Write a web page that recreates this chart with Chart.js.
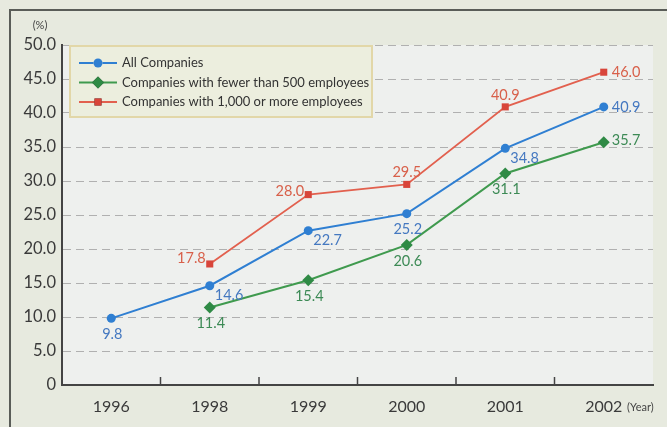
<!DOCTYPE html>
<html>
<head>
<meta charset="utf-8">
<script src="https://cdn.jsdelivr.net/npm/chart.js@4.4.1/dist/chart.umd.min.js"></script>
<style>
  html, body { margin: 0; padding: 0; background: #e7eadf; }
  #wrap { width: 667px; height: 427px; position: relative; }
</style>
</head>
<body>
<div id="wrap"><canvas id="c" width="667" height="427"></canvas></div>
<script>
// Survey years
const years = ['1996', '1998', '1999', '2000', '2001', '2002'];

// Share of companies (%)
const allCompanies   = [9.8, 14.6, 22.7, 25.2, 34.8, 40.9];
const under500       = [null, 11.4, 15.4, 20.6, 31.1, 35.7];
const over1000       = [null, 17.8, 28.0, 29.5, 40.9, 46.0];

const seriesNames = [
  'All Companies',
  'Companies with fewer than 500 employees',
  'Companies with 1,000 or more employees'
];

const yTicks = [0, 5, 10, 15, 20, 25, 30, 35, 40, 45, 50];

// Where each value label sits relative to its point
const labelPlacement = [
  ['below', 'belowRight', 'belowRight', 'below', 'belowRight', 'right'],
  [null, 'below', 'below', 'below', 'below', 'rightUp'],
  [null, 'aboveLeft', 'left', 'above', 'above', 'right']
];

const FONT = 'Lato, "DejaVu Sans", sans-serif';
const textColors = ['#4478c0', '#3c8a55', '#d8604a'];

const backdrop = {
  id: 'backdrop',
  beforeDraw(chart) {
    const { ctx, chartArea: a } = chart;
    ctx.save();
    ctx.fillStyle = '#eef0ee';
    ctx.fillRect(a.left, a.top, a.right - a.left, a.bottom - a.top);
    ctx.restore();
  },
  afterDraw(chart) {
    const { ctx, chartArea: a, scales } = chart;
    ctx.save();
    // outer frame
    ctx.strokeStyle = '#5a5d58';
    ctx.lineWidth = 2;
    ctx.beginPath();
    ctx.moveTo(10, 430);
    ctx.lineTo(10, 10);
    ctx.lineTo(670, 10);
    ctx.stroke();

    // inward category separators on the x axis
    const x = scales.x;
    ctx.strokeStyle = '#444';
    ctx.lineWidth = 1.5;
    for (let i = 0; i < years.length - 1; i++) {
      const px = (x.getPixelForValue(i) + x.getPixelForValue(i + 1)) / 2;
      ctx.beginPath();
      ctx.moveTo(px, a.bottom);
      ctx.lineTo(px, a.bottom - 8);
      ctx.stroke();
    }

    // axis units
    ctx.fillStyle = '#444';
    ctx.font = '11px ' + FONT;
    ctx.textAlign = 'center';
    ctx.textBaseline = 'middle';
    ctx.fillText('(%)', 40, 25);
    ctx.textAlign = 'left';
    ctx.fillText('(Year)', 627, 407);

    // value labels
    ctx.font = '14.5px ' + FONT;
    chart.data.datasets.forEach((ds, di) => {
      const meta = chart.getDatasetMeta(di);
      ctx.fillStyle = textColors[di];
      meta.data.forEach((pt, i) => {
        const v = ds.data[i];
        if (v == null) return;
        const txt = v.toFixed(1);
        let tx = pt.x, ty = pt.y;
        switch (labelPlacement[di][i]) {
          case 'below': ctx.textAlign = 'center'; ty += 16; tx += 1; break;
          case 'belowRight': ctx.textAlign = 'left'; tx += 5; ty += 10; break;
          case 'right': ctx.textAlign = 'left'; tx += 8; ty += 0; break;
          case 'rightUp': ctx.textAlign = 'left'; tx += 8; ty -= 2; break;
          case 'above': ctx.textAlign = 'center'; ty -= 12; break;
          case 'aboveLeft': ctx.textAlign = 'right'; tx -= 4; ty -= 6; break;
          case 'left': ctx.textAlign = 'right'; tx -= 4; ty -= 3; break;
        }
        ctx.textBaseline = 'middle';
        ctx.fillText(txt, tx, ty);
      });
    });

    // legend
    const lx = 70, ly = 46, lw = 302, lh = 71;
    ctx.fillStyle = '#eceede';
    ctx.strokeStyle = '#e2d7a8';
    ctx.lineWidth = 2;
    ctx.fillRect(lx, ly, lw, lh);
    ctx.strokeRect(lx, ly, lw, lh);
    ctx.font = '13px ' + FONT;
    ctx.textAlign = 'left';
    ctx.textBaseline = 'middle';
    chart.data.datasets.forEach((ds, di) => {
      const ry = 63 + di * 19.5;
      ctx.strokeStyle = ds.borderColor;
      ctx.lineWidth = 2;
      ctx.beginPath();
      ctx.moveTo(79, ry);
      ctx.lineTo(117, ry);
      ctx.stroke();
      Chart.helpers.drawPoint(ctx, {
        pointStyle: ds.pointStyle,
        radius: ds.pointRadius,
        borderWidth: 0,
        rotation: 0
      }, 98, ry);
      ctx.fillStyle = ds.pointBackgroundColor;
      ctx.fill();
      ctx.fillStyle = '#333';
      ctx.fillText(ds.label, 122, ry);
    });
    ctx.restore();
  }
};

new Chart(document.getElementById('c'), {
  type: 'line',
  data: {
    labels: years,
    datasets: [
      {
        label: seriesNames[0], data: allCompanies,
        borderColor: '#2f7fd2', backgroundColor: '#2f7fd2',
        pointBackgroundColor: '#2f7fd2', pointBorderWidth: 0,
        pointStyle: 'circle', pointRadius: 4.5, borderWidth: 2
      },
      {
        label: seriesNames[1], data: under500,
        borderColor: '#3f9a4e', backgroundColor: '#2f8a45',
        pointBackgroundColor: '#2f8a45', pointBorderWidth: 0,
        pointStyle: 'rectRot', pointRadius: 6, borderWidth: 2
      },
      {
        label: seriesNames[2], data: over1000,
        borderColor: '#e2604e', backgroundColor: '#d8453a',
        pointBackgroundColor: '#d8453a', pointBorderWidth: 0,
        pointStyle: 'rect', pointRadius: 5, borderWidth: 1.8
      }
    ]
  },
  plugins: [backdrop],
  options: {
    responsive: false,
    animation: false,
    spanGaps: false,
    layout: { padding: { left: 0, right: 14, top: 45, bottom: 0 } },
    plugins: { legend: { display: false }, tooltip: { enabled: false } },
    scales: {
      x: {
        offset: true,
        grid: { display: false, drawTicks: false },
        border: { color: '#444', width: 2 },
        ticks: {
          color: '#3a3a3a', padding: 12,
          font: { family: FONT, size: 16 }
        },
        afterFit(s) { s.height = 42; }
      },
      y: {
        min: 0, max: 50,
        afterBuildTicks(s) { s.ticks = yTicks.map(v => ({ value: v })); },
        grid: {
          color: c => c.tick.value === 0 ? 'rgba(0,0,0,0)' : '#b0b0b0',
          lineWidth: 1, drawTicks: false
        },
        border: { color: '#444', width: 2, dash: [8, 5] },
        ticks: {
          color: '#3a3a3a', padding: 6,
          font: { family: FONT, size: 16.5 },
          callback: v => v === 0 ? '0' : v.toFixed(1)
        },
        afterFit(s) { s.width = 62; }
      }
    }
  }
});
</script>
</body>
</html>
